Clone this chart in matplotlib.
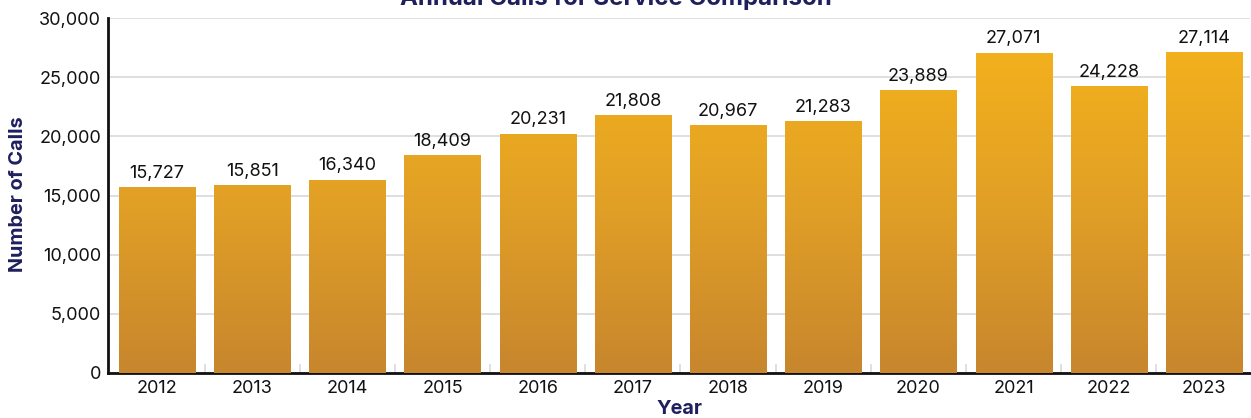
import numpy as np
import matplotlib
matplotlib.use("Agg")
import matplotlib.pyplot as plt
from matplotlib.colors import LinearSegmentedColormap

# datos
years = ["2012", "2013", "2014", "2015", "2016", "2017",
         "2018", "2019", "2020", "2021", "2022", "2023"]
calls = [15727, 15851, 16340, 18409, 20231, 21808,
         20967, 21283, 23889, 27071, 24228, 27114]
y_ticks = [0, 5000, 10000, 15000, 20000, 25000, 30000]

plt.rcParams["font.family"] = ["Inter", "DejaVu Sans"]
navy = "#1f1f5e"

fig = plt.figure(figsize=(12.51, 4.18), dpi=100)
ax = fig.add_axes([0.0863, 0.1077, 0.913, 0.849])

x = np.arange(len(years))
bars = ax.bar(x, calls, width=0.8, color="none", zorder=3)

# degradado vertical segun el valor del eje y
cmap = LinearSegmentedColormap.from_list("oro", ["#c8862e", "#e2a125", "#f7b41b"])
grad = np.linspace(0, 1, 256).reshape(-1, 1)
for b in bars:
    im = ax.imshow(grad, cmap=cmap, aspect="auto", origin="lower",
                   extent=[b.get_x(), b.get_x() + b.get_width(), 0, 30000],
                   vmin=0, vmax=1, zorder=3)
    im.set_clip_path(b)

for xi, v in zip(x, calls):
    ax.text(xi, v + 450, f"{v:,}", ha="center", va="bottom",
            fontsize=13, color="#111111", zorder=4)

ax.set_xlim(-0.515, len(years) - 0.515)
ax.set_ylim(0, 30000)
ax.set_yticks(y_ticks)
ax.set_yticklabels([f"{t:,}" for t in y_ticks], fontsize=13, color="#111111")
ax.set_xticks(x)
ax.set_xticklabels(years, fontsize=13, color="#111111")
ax.tick_params(axis="both", length=0, pad=5)

# marcas entre categorias
for b in np.arange(0.5, len(years) - 0.5, 1):
    ax.plot([b, b], [0, 700], color="#d9d9d9", lw=1.2, zorder=1)

ax.grid(axis="y", color="#d9d9d9", lw=1.2, zorder=0)
ax.set_axisbelow(True)
for s in ["top", "right"]:
    ax.spines[s].set_visible(False)
ax.spines["left"].set_linewidth(2)
ax.spines["bottom"].set_linewidth(2)
ax.spines["left"].set_color("#111111")
ax.spines["bottom"].set_color("#111111")

fig.text(0.492, 1.004, "Annual Calls for Service Comparison", ha="center", va="center",
         fontsize=17.3, fontweight="bold", color=navy)
fig.text(0.0145, 0.535, "Number of Calls", rotation=90, ha="center", va="center",
         fontsize=14.3, fontweight="bold", color=navy)
fig.text(0.543, 0.022, "Year", ha="center", va="center",
         fontsize=14.3, fontweight="bold", color=navy)

fig.savefig("out.png", dpi=100)
